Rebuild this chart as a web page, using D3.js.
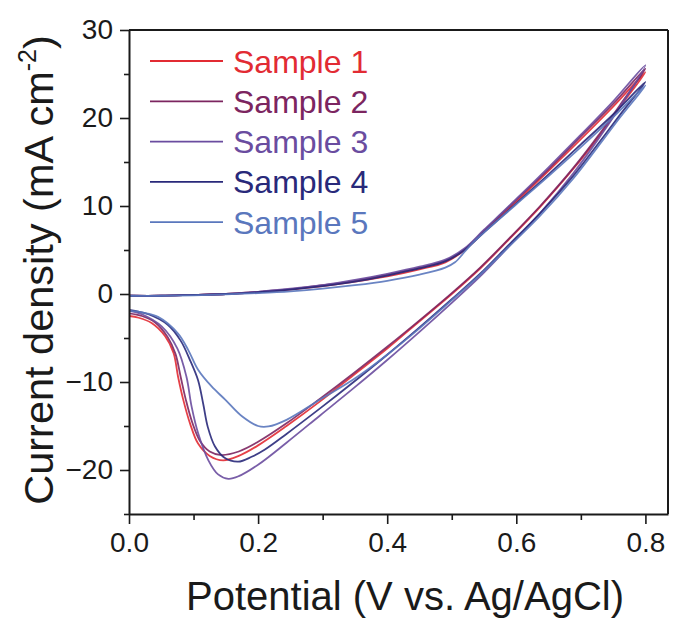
<!DOCTYPE html>
<html>
<head>
<meta charset="utf-8">
<script src="https://cdn.jsdelivr.net/npm/d3@7"></script>
<style>
  html, body { margin: 0; padding: 0; background: #fff; }
  svg { display: block; }
  text { font-family: "Liberation Sans", Arial, Helvetica, sans-serif; }
</style>
</head>
<body>
<svg id="chart" width="678" height="622"></svg>
<script>
// ---------- data ----------
const seriesNames = ["Sample 1", "Sample 2", "Sample 3", "Sample 4", "Sample 5"];
const seriesColors = ["#e22b33", "#7c2560", "#6a4c9f", "#29297a", "#5a77bd"];

const xTicks = [0.0, 0.2, 0.4, 0.6, 0.8];
const xMinorTicks = [0.1, 0.3, 0.5, 0.7];
const yTicks = [-20, -10, 0, 10, 20, 30];
const yMinorTicks = [-25, -15, -5, 5, 15, 25];

const xTitle = "Potential (V vs. Ag/AgCl)";
const yTitle = "Current density (mA cm";
const yTitleSup = "-2";

// [potential (V), current density (mA cm-2)] – forward scan then reverse scan
const sample1 = [[0,-0.2],[0.05,-0.2],[0.1,-0.1],[0.15,0.0],[0.2,0.2],[0.25,0.5],[0.3,0.9],[0.35,1.4],[0.4,2.0],[0.45,2.8],[0.49,3.6],[0.52,5.0],[0.55,7.1],[0.6,10.5],[0.65,14.0],[0.7,17.6],[0.75,21.3],[0.8,25.2],
  [0.76,21.2],[0.725,17.6],[0.688,14.2],[0.637,9.9],[0.586,6.0],[0.544,2.9],[0.5,0.0],[0.45,-3.1],[0.4,-6.2],[0.348,-9.2],[0.296,-12.2],[0.244,-15.0],[0.2,-17.2],[0.17,-18.4],[0.146,-18.9],[0.125,-18.4],[0.107,-17.0],[0.0945,-14.7],[0.084,-12.0],[0.076,-9.4],[0.069,-6.7],[0.056,-4.8],[0.035,-3.3],[0.015,-2.7],[0,-2.5]];
const sample2 = [[0,-0.2],[0.05,-0.2],[0.1,-0.1],[0.15,0.0],[0.2,0.25],[0.25,0.55],[0.3,1.0],[0.35,1.5],[0.4,2.2],[0.45,3.0],[0.49,3.8],[0.52,5.1],[0.55,7.2],[0.6,10.7],[0.65,14.2],[0.7,17.9],[0.75,21.6],[0.8,25.6],
  [0.76,21.4],[0.725,17.8],[0.688,14.3],[0.637,10.0],[0.586,6.1],[0.544,3.0],[0.5,0.1],[0.45,-3.0],[0.4,-6.0],[0.348,-9.0],[0.296,-11.9],[0.244,-14.7],[0.2,-16.8],[0.17,-17.9],[0.143,-18.3],[0.125,-17.9],[0.11,-16.7],[0.098,-14.6],[0.088,-12.0],[0.08,-9.4],[0.072,-6.8],[0.06,-4.9],[0.04,-3.2],[0.02,-2.5],[0,-2.2]];
const sample3 = [[0,-0.2],[0.05,-0.2],[0.1,-0.1],[0.15,0.0],[0.2,0.25],[0.25,0.6],[0.3,1.0],[0.35,1.6],[0.4,2.3],[0.45,3.1],[0.49,3.9],[0.52,5.2],[0.55,7.3],[0.6,10.8],[0.65,14.4],[0.7,18.1],[0.75,21.9],[0.8,26.0],
  [0.76,21.2],[0.725,17.4],[0.688,13.7],[0.637,9.2],[0.586,5.2],[0.544,2.0],[0.5,-1.0],[0.45,-4.3],[0.4,-7.5],[0.348,-10.7],[0.296,-13.8],[0.244,-16.9],[0.2,-19.4],[0.17,-20.7],[0.154,-21.0],[0.138,-20.5],[0.123,-18.9],[0.107,-15.8],[0.097,-12.8],[0.089,-9.4],[0.075,-6.2],[0.051,-3.7],[0.02,-2.3],[0,-1.9]];
const sample4 = [[0,-0.2],[0.05,-0.2],[0.1,-0.1],[0.15,0.0],[0.2,0.2],[0.25,0.5],[0.3,0.9],[0.35,1.4],[0.4,2.1],[0.45,2.9],[0.49,3.7],[0.52,5.0],[0.55,7.0],[0.6,10.3],[0.65,13.6],[0.7,17.0],[0.75,20.4],[0.8,24.1],
  [0.76,20.3],[0.725,16.9],[0.688,13.4],[0.637,9.2],[0.586,5.4],[0.544,2.3],[0.5,-0.6],[0.45,-3.8],[0.4,-6.9],[0.348,-10.0],[0.296,-13.0],[0.244,-15.9],[0.21,-17.7],[0.19,-18.5],[0.169,-19.05],[0.148,-18.6],[0.133,-17.3],[0.122,-15.1],[0.115,-12.5],[0.107,-9.8],[0.095,-7.6],[0.08,-5.3],[0.06,-3.5],[0.03,-2.3],[0,-1.8]];
const sample5 = [[0,-0.2],[0.05,-0.2],[0.1,-0.15],[0.15,-0.05],[0.2,0.1],[0.25,0.3],[0.3,0.6],[0.35,1.0],[0.4,1.5],[0.45,2.2],[0.49,3.0],[0.505,3.6],[0.52,4.8],[0.535,6.0],[0.55,7.0],[0.6,10.2],[0.65,13.4],[0.7,16.7],[0.75,20.1],[0.8,23.7],
  [0.76,20.0],[0.725,16.6],[0.688,13.1],[0.637,8.9],[0.586,5.2],[0.544,2.2],[0.5,-0.7],[0.45,-3.9],[0.4,-6.9],[0.348,-9.7],[0.296,-12.0],[0.244,-14.3],[0.216,-15.05],[0.2,-15.0],[0.175,-13.9],[0.149,-12.0],[0.128,-10.5],[0.107,-8.6],[0.092,-6.4],[0.076,-4.5],[0.045,-2.6],[0.02,-2.1],[0,-1.9]];
const allSeries = [sample1, sample2, sample3, sample4, sample5];

// ---------- layout ----------
const svg = d3.select("#chart");
const mLeft = 129, mRight = 668, mTop = 30, mBottom = 514;
const x = d3.scaleLinear().domain([0, 0.835]).range([mLeft, mRight]);
const y = d3.scaleLinear().domain([-25, 30]).range([mBottom, mTop]);
const axisColor = "#1a1a1a";

// curves
const line = d3.line().x(d => x(d[0])).y(d => y(d[1])).curve(d3.curveCatmullRom.alpha(0.5));
svg.append("clipPath").attr("id", "plotclip")
  .append("rect").attr("x", mLeft).attr("y", mTop).attr("width", mRight - mLeft).attr("height", mBottom - mTop);
const plot = svg.append("g").attr("clip-path", "url(#plotclip)");
allSeries.forEach((s, i) => {
  plot.append("path").datum(s).attr("d", line)
    .attr("fill", "none").attr("stroke", seriesColors[i])
    .attr("stroke-width", 1.8).attr("stroke-opacity", 0.9)
    .attr("stroke-linejoin", "round");
});

// frame
svg.append("line").attr("x1", mLeft).attr("x2", mRight).attr("y1", mTop).attr("y2", mTop)
  .attr("stroke", axisColor).attr("stroke-width", 2);
svg.append("line").attr("x1", mRight).attr("x2", mRight).attr("y1", mTop).attr("y2", mBottom)
  .attr("stroke", axisColor).attr("stroke-width", 2);

// x axis
const gx = svg.append("g").attr("transform", `translate(0,${mBottom})`)
  .call(d3.axisBottom(x).tickValues(xTicks).tickFormat(d3.format(".1f")).tickSize(10).tickSizeOuter(0).tickPadding(8));
const gxm = svg.append("g").attr("transform", `translate(0,${mBottom})`)
  .call(d3.axisBottom(x).tickValues(xMinorTicks).tickFormat("").tickSize(6).tickSizeOuter(0));
gxm.select(".domain").remove();

// y axis
const gy = svg.append("g").attr("transform", `translate(${mLeft},0)`)
  .call(d3.axisLeft(y).tickValues(yTicks).tickFormat(d3.format("d")).tickSize(9).tickSizeOuter(0).tickPadding(7));
const gym = svg.append("g").attr("transform", `translate(${mLeft},0)`)
  .call(d3.axisLeft(y).tickValues(yMinorTicks).tickFormat("").tickSize(5).tickSizeOuter(0));
gym.select(".domain").remove();

[gx, gxm, gy, gym].forEach(g => {
  g.selectAll(".domain").attr("stroke", axisColor).attr("stroke-width", 2);
  g.selectAll(".tick line").attr("stroke", axisColor).attr("stroke-width", 1.6);
  g.selectAll(".tick text").attr("fill", "#1a1a1a").attr("font-size", 28)
    .attr("font-family", "'Liberation Sans', Arial, sans-serif");
});

// axis titles
svg.append("text").attr("x", 405).attr("y", 610)
  .attr("text-anchor", "middle").attr("font-size", 40).attr("fill", "#1a1a1a")
  .text(xTitle);
const yt = svg.append("text").attr("transform", "translate(53,270) rotate(-90)")
  .attr("text-anchor", "middle").attr("font-size", 41.5).attr("fill", "#1a1a1a");
yt.append("tspan").text(yTitle);
yt.append("tspan").attr("dy", -17).attr("font-size", 25).text(yTitleSup);
yt.append("tspan").attr("dy", 17).text(")");

// legend
const legendY0 = 61, legendDy = 40.3;
seriesNames.forEach((name, i) => {
  const ly = legendY0 + i * legendDy;
  svg.append("line").attr("x1", 150).attr("x2", 223).attr("y1", ly).attr("y2", ly)
    .attr("stroke", seriesColors[i]).attr("stroke-width", 1.8);
  svg.append("text").attr("x", 233).attr("y", ly + 11.5)
    .attr("font-size", 32).attr("fill", seriesColors[i]).text(name);
});
</script>
</body>
</html>
